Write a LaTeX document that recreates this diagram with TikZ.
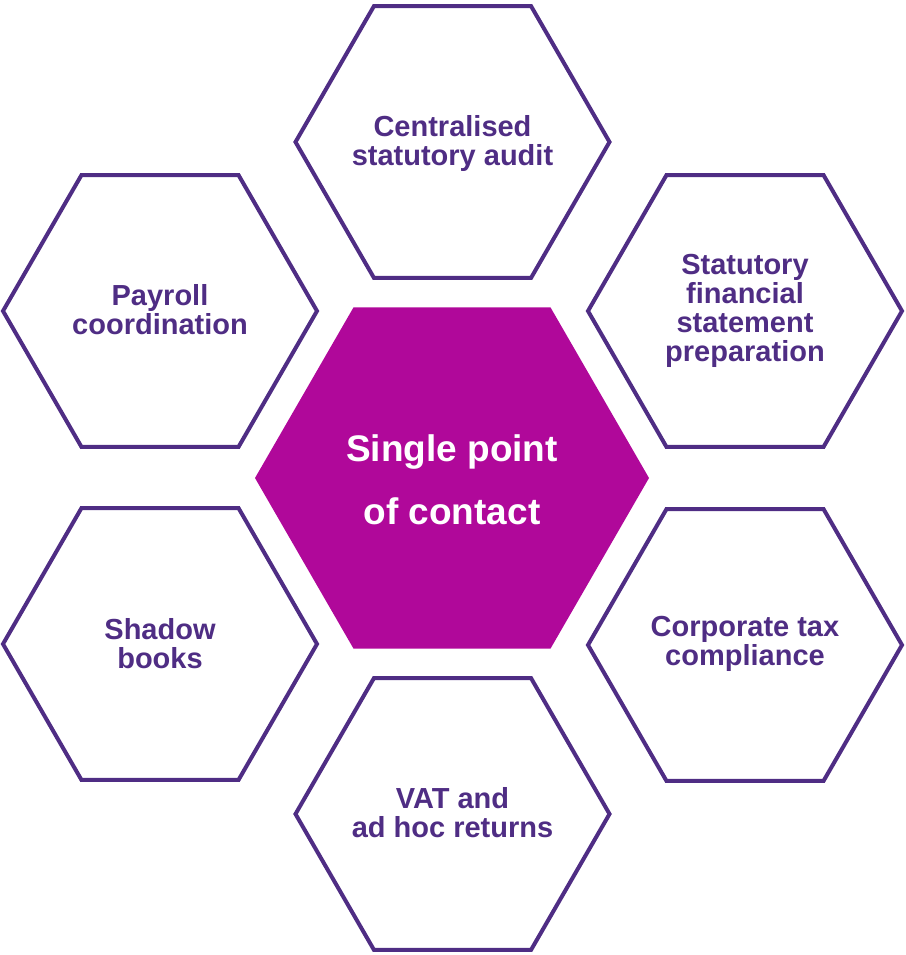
\documentclass[tikz,border=0pt]{standalone}
\usepackage{fontspec}
\setmainfont{Liberation Sans}
\usetikzlibrary{shapes.geometric}
\definecolor{hexpurple}{HTML}{4F2D84}
\definecolor{hexmagenta}{HTML}{B0089A}
\begin{document}
\begin{tikzpicture}[x=1pt,y=-1pt,
  outerhex/.style={regular polygon, regular polygon sides=6, minimum size=314pt, inner sep=0pt, outer sep=0pt, draw=hexpurple, line width=4pt},
  centerhex/.style={regular polygon, regular polygon sides=6, minimum size=394pt, inner sep=0pt, outer sep=0pt, fill=hexmagenta},
  outertext/.style={text=hexpurple, font=\fontsize{29}{29}\selectfont\bfseries, align=center, inner sep=0pt},
  centertext/.style={text=white, font=\fontsize{37}{63}\selectfont\bfseries, align=center, inner sep=0pt}]
\useasboundingbox (0,0) rectangle (905,955);
\node[centerhex] (hc) at (452,478) {};
\node[outerhex] (ht) at (452.5,142) {};
\node[outerhex] (htl) at (160,311) {};
\node[outerhex] (htr) at (745,311) {};
\node[outerhex] (hbl) at (160,644) {};
\node[outerhex] (hbr) at (745,645) {};
\node[outerhex] (hb) at (452.5,814) {};
\node[centertext] (tc) at ([yshift=-2pt]hc.center) {Single point\\of contact};
\node[outertext] (tt) at ([yshift=-2pt]ht.center) {Centralised\\statutory audit};
\node[outertext] (ttl) at ([yshift=1pt]htl.center) {Payroll\\coordination};
\node[outertext] (ttr) at (htr.center) {Statutory\\financial\\statement\\preparation};
\node[outertext] (tbl) at (hbl.center) {Shadow\\books};
\node[outertext] (tbr) at ([yshift=1pt]hbr.center) {Corporate tax\\compliance};
\node[outertext] (tb) at ([yshift=1pt]hb.center) {VAT and\\ad hoc returns};
\end{tikzpicture}
\end{document}
